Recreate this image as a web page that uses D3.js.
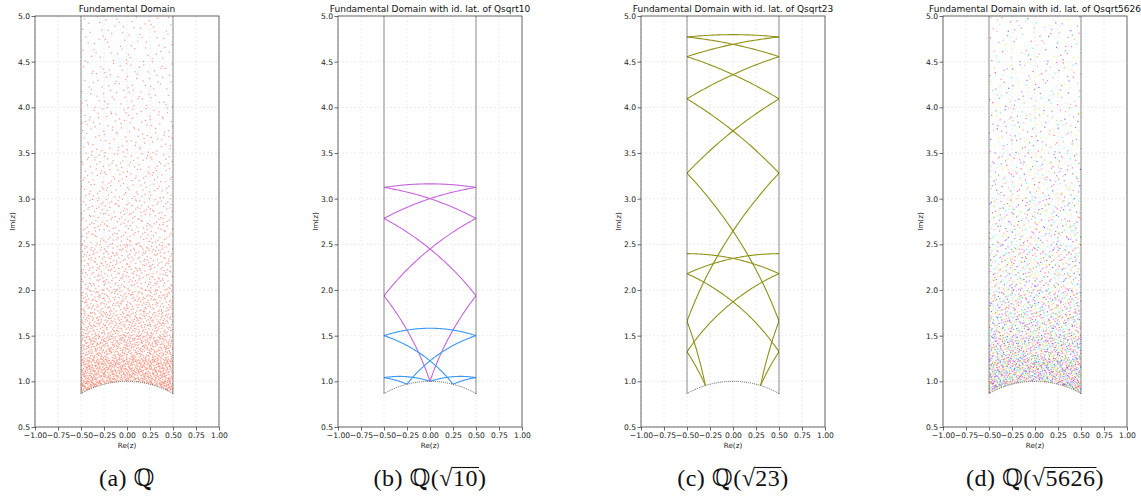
<!DOCTYPE html>
<html>
<head>
<meta charset="utf-8">
<script src="https://cdn.jsdelivr.net/npm/d3@7"></script>
<style>
  body { margin: 0; background: #fff; }
</style>
</head>
<body>
<div id="chart"></div>
<script>
// axis ticks
const xTicks = [-1, -0.75, -0.5, -0.25, 0, 0.25, 0.5, 0.75, 1];
const yTicks = [0.5, 1, 1.5, 2, 2.5, 3, 3.5, 4, 4.5, 5];

const titles = [
  "Fundamental Domain",
  "Fundamental Domain with id. lat. of Qsqrt10",
  "Fundamental Domain with id. lat. of Qsqrt23",
  "Fundamental Domain with id. lat. of Qsqrt5626"
];
const captionLetters = ["(a)", "(b)", "(c)", "(d)"];
const captionRadicands = [null, "10", "23", "5626"];

// geodesics |z - c|^2 = r2 (b) and (c)
const q10Purple = { r2: 10, centers: [-3, -2, -1, 0, 1, 2, 3] };
const q10BlueA = { r2: 2.5, centers: [-1, 0, 1] };
const q10BlueB = { r2: 10 / 9, centers: [-2 / 3, -1 / 3, 1 / 3, 2 / 3] };
const q23Big = { r2: 23, centers: [-5, -4, -3, -2, -1, 0, 1, 2, 3, 4, 5] };
const q23Small = { r2: 5.75, centers: [-2.5, -1.5, -0.5, 0.5, 1.5, 2.5] };

// scatter density: number of points per Im(z) band
const bandEdges = [0.866, 1.0, 1.25, 1.5, 1.75, 2.0, 2.5, 3.0, 3.5, 4.0, 4.5, 5.0];
const countsQ = [150, 640, 430, 300, 230, 320, 215, 150, 115, 90, 72];
const counts5626 = [170, 700, 470, 330, 250, 340, 230, 165, 125, 100, 80];
const palette5626 = ["#ff2020", "#2030ff", "#20e0ff", "#ffe020", "#ff30ff", "#ff80b0", "#30a030", "#ffa030", "#9040e0", "#80ffd0"];

const W = 1141, H = 497;
const plotTop = 16, plotBottom = 427, pw = 184;
const lefts = [35, 338, 641, 943];

const svg = d3.select("#chart").append("svg")
  .attr("width", W).attr("height", H);

function halton(i, b) {
  let f = 1, r = 0;
  while (i > 0) { f /= b; r += f * (i % b); i = Math.floor(i / b); }
  return r;
}

function bandPoints(counts, offset) {
  const pts = [];
  let k = offset;
  counts.forEach((n, j) => {
    const y0 = bandEdges[j], y1 = bandEdges[j + 1];
    let got = 0;
    while (got < n) {
      k++;
      const px = -0.5 + halton(k, 2);
      const py = y0 + (y1 - y0) * halton(k, 3);
      if (px * px + py * py < 1) continue;
      pts.push([px, py, Math.floor(halton(k, 7) * palette5626.length)]);
      got++;
    }
  });
  return pts;
}

lefts.forEach((left, i) => {
  const x = d3.scaleLinear().domain([-1, 1]).range([left, left + pw]);
  const y = d3.scaleLinear().domain([0.5, 5]).range([plotBottom, plotTop]);
  const g = svg.append("g");

  // grid
  g.append("g").selectAll("line").data(xTicks).join("line")
    .attr("x1", d => x(d)).attr("x2", d => x(d))
    .attr("y1", plotTop).attr("y2", plotBottom)
    .attr("stroke", "#ddd").attr("stroke-width", 0.6).attr("stroke-dasharray", "2,2");
  g.append("g").selectAll("line").data(yTicks).join("line")
    .attr("x1", left).attr("x2", left + pw)
    .attr("y1", d => y(d)).attr("y2", d => y(d))
    .attr("stroke", "#ddd").attr("stroke-width", 0.6).attr("stroke-dasharray", "2,2");

  // fundamental domain clip
  const arcXs = d3.range(0, 101).map(t => 0.5 - t / 100);
  const arcPts = arcXs.map(a => [a, Math.sqrt(1 - a * a)]);
  const domPts = [[-0.5, 5], [0.5, 5]].concat(arcPts);
  const clipId = "clip" + i;
  g.append("clipPath").attr("id", clipId)
    .append("path")
    .attr("d", d3.line().x(d => x(d[0])).y(d => y(d[1]))(domPts) + "Z");

  const marks = g.append("g").attr("clip-path", `url(#${clipId})`);

  if (i === 0 || i === 3) {
    const pts = i === 0 ? bandPoints(countsQ, 0) : bandPoints(counts5626, 7919);
    marks.selectAll("rect").data(pts).join("rect")
      .attr("x", d => x(d[0]) - 0.6).attr("y", d => y(d[1]) - 0.6)
      .attr("width", 1.2).attr("height", 1.2)
      .attr("fill", d => i === 0 ? "#f4583a" : palette5626[d[2]])
      .attr("opacity", i === 0 ? 0.6 : 0.65);
  }

  function drawGeodesics(set, color) {
    set.centers.forEach(c => {
      const r = Math.sqrt(set.r2);
      const xs = d3.range(0, 401).map(t => c - r + (2 * r) * t / 400);
      const pts = xs.map(a => [a, Math.sqrt(Math.max(0, set.r2 - (a - c) * (a - c)))]);
      marks.append("path")
        .attr("d", d3.line().x(d => x(d[0])).y(d => y(d[1]))(pts))
        .attr("fill", "none").attr("stroke", color).attr("stroke-width", 1.1);
    });
  }
  if (i === 1) {
    drawGeodesics(q10Purple, "#c466dc");
    drawGeodesics(q10BlueA, "#3a98f5");
    drawGeodesics(q10BlueB, "#3a98f5");
  }
  if (i === 2) {
    drawGeodesics(q23Big, "#929218");
    drawGeodesics(q23Small, "#929218");
  }

  // domain boundary
  const yb = Math.sqrt(0.75);
  [-0.5, 0.5].forEach(a => {
    g.append("line")
      .attr("x1", x(a)).attr("x2", x(a)).attr("y1", y(yb)).attr("y2", y(5))
      .attr("stroke", "#222").attr("stroke-width", 1).attr("stroke-dasharray", "1,1");
  });
  g.append("path")
    .attr("d", d3.line().x(d => x(d[0])).y(d => y(d[1]))(arcPts))
    .attr("fill", "none").attr("stroke", "#555").attr("stroke-width", 0.9)
    .attr("stroke-dasharray", "1,1");

  // frame
  g.append("rect").attr("x", left).attr("y", plotTop).attr("width", pw).attr("height", plotBottom - plotTop)
    .attr("fill", "none").attr("stroke", "#444").attr("stroke-width", 0.8);

  // axes
  const ax = g.append("g").attr("transform", `translate(0,${plotBottom})`)
    .call(d3.axisBottom(x).tickValues(xTicks).tickSize(3.5).tickSizeOuter(0)
      .tickFormat(d => d3.format(".2f")(d).replace("-", "\u2212")));
  const ay = g.append("g").attr("transform", `translate(${left},0)`)
    .call(d3.axisLeft(y).tickValues(yTicks).tickSize(3.5).tickSizeOuter(0)
      .tickFormat(d3.format(".1f")));
  [ax, ay].forEach(a => {
    a.select(".domain").remove();
    a.selectAll("line").attr("stroke", "#444").attr("stroke-width", 0.8);
    a.selectAll("text").attr("font-size", 7.6).attr("fill", "#222")
      .attr("font-family", "DejaVu Sans");
  });
  ax.selectAll("text").attr("dy", "0.9em").attr("y", 4);
  ay.selectAll("text").attr("x", -5);

  // labels
  g.append("text").attr("x", left + pw / 2).attr("y", 448).attr("font-family", "DejaVu Sans")
    .attr("text-anchor", "middle").attr("font-size", 7.2).attr("fill", "#222").text("Re(z)");
  g.append("text").attr("transform", `translate(${left - 20},${(plotTop + plotBottom) / 2}) rotate(-90)`)
    .attr("font-family", "DejaVu Sans")
    .attr("text-anchor", "middle").attr("font-size", 7.2).attr("fill", "#222").text("Im(z)");
  g.append("text").attr("x", left + pw / 2).attr("y", 12).attr("font-family", "DejaVu Sans")
    .attr("text-anchor", "middle").attr("font-size", 9).attr("fill", "#111").text(titles[i]);

  // caption
  const cap = g.append("text").attr("x", left + pw / 2).attr("y", 486)
    .attr("text-anchor", "middle").attr("font-size", 24).attr("letter-spacing", 0.5)
    .attr("font-family", "'Liberation Serif', 'DejaVu Serif', serif").attr("fill", "#111");
  cap.append("tspan").text(captionLetters[i] + " \u211A");
  if (captionRadicands[i]) {
    cap.append("tspan").text("(\u221A");
    cap.append("tspan").text(captionRadicands[i]);
    cap.append("tspan").text(")");
    const n = cap.node();
    const bb = n.getBBox();
    // overline above radicand
    const start = n.textContent.indexOf(captionRadicands[i]);
    const s = n.getStartPositionOfChar(start);
    const e = n.getEndPositionOfChar(start + captionRadicands[i].length - 1);
    g.append("line").attr("x1", s.x - 1).attr("x2", e.x + 1)
      .attr("y1", bb.y + 2.5).attr("y2", bb.y + 2.5)
      .attr("stroke", "#111").attr("stroke-width", 1.1);
  }
});
</script>
</body>
</html>
